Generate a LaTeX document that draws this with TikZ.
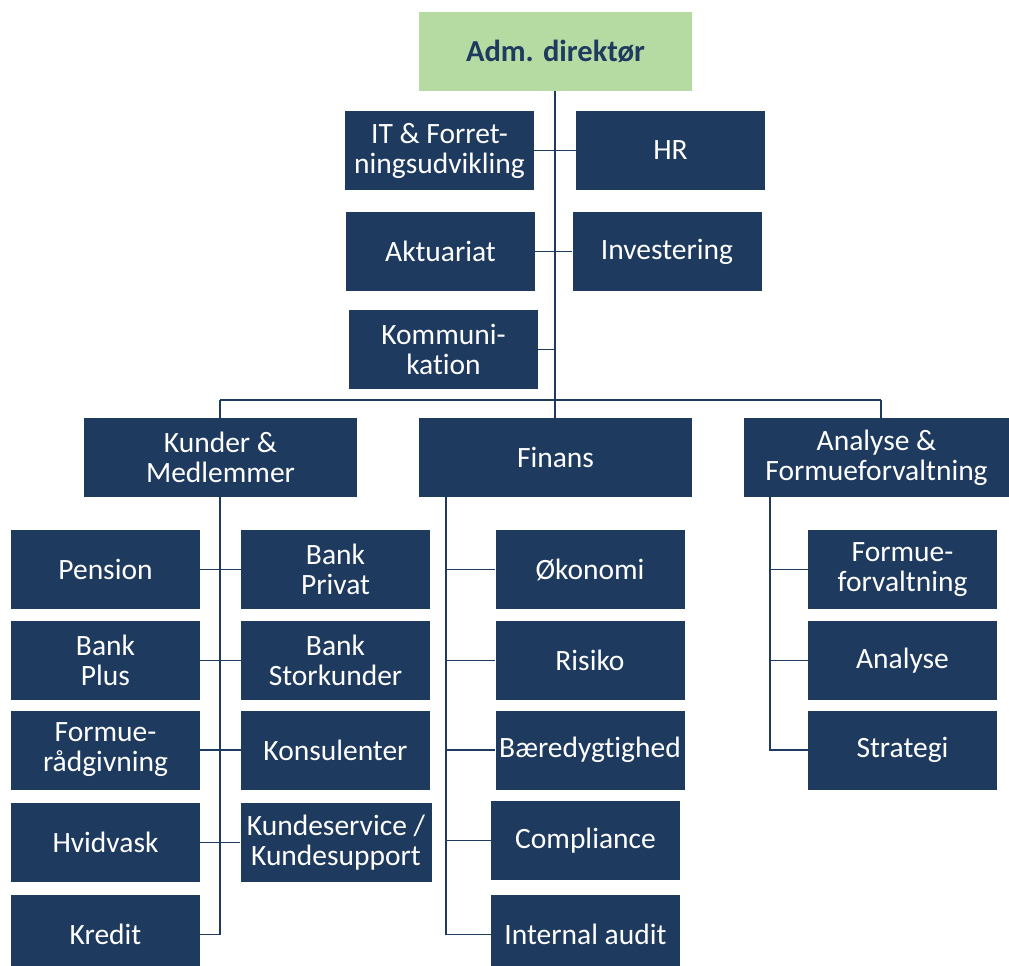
\documentclass[tikz,border=0pt]{standalone}
\usepackage{fontspec}
\setmainfont{Carlito}[Ligatures=NoCommon]
\definecolor{navy}{HTML}{1E3A5F}
\definecolor{lgreen}{HTML}{B5DBA2}
\begin{document}
\begin{tikzpicture}[x=1pt,y=-1pt,
  bx/.style={fill=navy,text=white,inner sep=0pt,align=center,
    minimum width=189pt,minimum height=79pt,
    font=\fontsize{29.5}{30}\selectfont},
  wide/.style={minimum width=273pt},
  ln/.style={draw=navy,line width=1.8pt}]
\useasboundingbox (0,0) rectangle (1009,966);
% top
\node[bx,wide,fill=lgreen,text=navy,font=\fontsize{30.5}{31}\selectfont\bfseries] (adm) at (555.5,51.5) {Adm. direktør};
\node[bx] (it) at (439.5,150.5) {IT \& Forret-\\ningsudvikling};
\node[bx] (hr) at (670.5,150.5) {HR};
\node[bx] (akt) at (440.5,251.5) {Aktuariat};
\node[bx] (inv) at (667,251.5) {Investering};
\node[bx] (kom) at (443.5,349.5) {Kommuni-\\kation};
% level 2
\node[bx,wide] (kun) at (220.5,457.5) {Kunder \&\\Medlemmer};
\node[bx,wide] (fin) at (555.5,457.5) {Finans};
\node[bx,minimum width=265pt] (ana) at (876.5,457.5) {Analyse \&\\Formueforvaltning};
% Kunder column
\node[bx] (pen) at (105.5,569.5) {Pension};
\node[bx] (bpl) at (105.5,660.5) {Bank\\Plus};
\node[bx] (frg) at (105.5,750) {Formue-\\rådgivning};
\node[bx] (hvi) at (105.5,842.5) {Hvidvask};
\node[bx] (kre) at (105.5,934.5) {Kredit};
\node[bx] (bpr) at (335.5,569.5) {Bank\\Privat};
\node[bx] (bst) at (335.5,660.5) {Bank\\Storkunder};
\node[bx] (kon) at (335.5,750) {Konsulenter};
\node[bx,minimum width=191pt] (ksv) at (336,842.5) {Kundeservice /\\Kundesupport};
% Finans column
\node[bx] (oko) at (590,569.5) {Økonomi};
\node[bx] (ris) at (590,660.5) {Risiko};
\node[bx] (bae) at (590,750) {Bæredygtighed};
\node[bx] (com) at (585.5,840.5) {Compliance};
\node[bx] (ia) at (585.5,934.5) {Internal audit};
% Analyse column
\node[bx] (ffv) at (902.5,569.5) {Formue-\\forvaltning};
\node[bx] (anl) at (902.5,660.5) {Analyse};
\node[bx] (str) at (902.5,750) {Strategi};
% coordinates
\coordinate (bm) at (555,400);
\coordinate (bl) at (220,400);
\coordinate (br) at (881,400);
\coordinate (kb) at (220,934.5);
\coordinate (fb) at (446,934.5);
\coordinate (ab) at (770,750);
% connectors
\draw[ln] (adm.south -| bm) -- (bm);
\draw[ln] (bl) -- (br);
\draw[ln] (bl) -- (kun.north -| bl);
\draw[ln] (bm) -- (fin.north -| bm);
\draw[ln] (br) -- (ana.north -| br);
\draw[ln] (it.east) -- (hr.west |- it.east);
\draw[ln] (akt.east) -- (inv.west |- akt.east);
\draw[ln] (kom.east) -- (kom.east -| bm);
% Kunder
\draw[ln] (kun.south -| kb) -- (kb) -- (kre.east);
\draw[ln] (pen.east) -- (bpr.west);
\draw[ln] (bpl.east) -- (bst.west);
\draw[ln] (frg.east) -- (kon.west);
\draw[ln] (hvi.east) -- (ksv.west);
% Finans
\draw[ln] (fin.south -| fb) -- (fb) -- (ia.west);
\draw[ln] (oko.west -| fb) -- (oko.west);
\draw[ln] (ris.west -| fb) -- (ris.west);
\draw[ln] (bae.west -| fb) -- (bae.west);
\draw[ln] (com.west -| fb) -- (com.west);
% Analyse
\draw[ln] (ana.south -| ab) -- (ab) -- (str.west);
\draw[ln] (ffv.west -| ab) -- (ffv.west);
\draw[ln] (anl.west -| ab) -- (anl.west);
\end{tikzpicture}
\end{document}
